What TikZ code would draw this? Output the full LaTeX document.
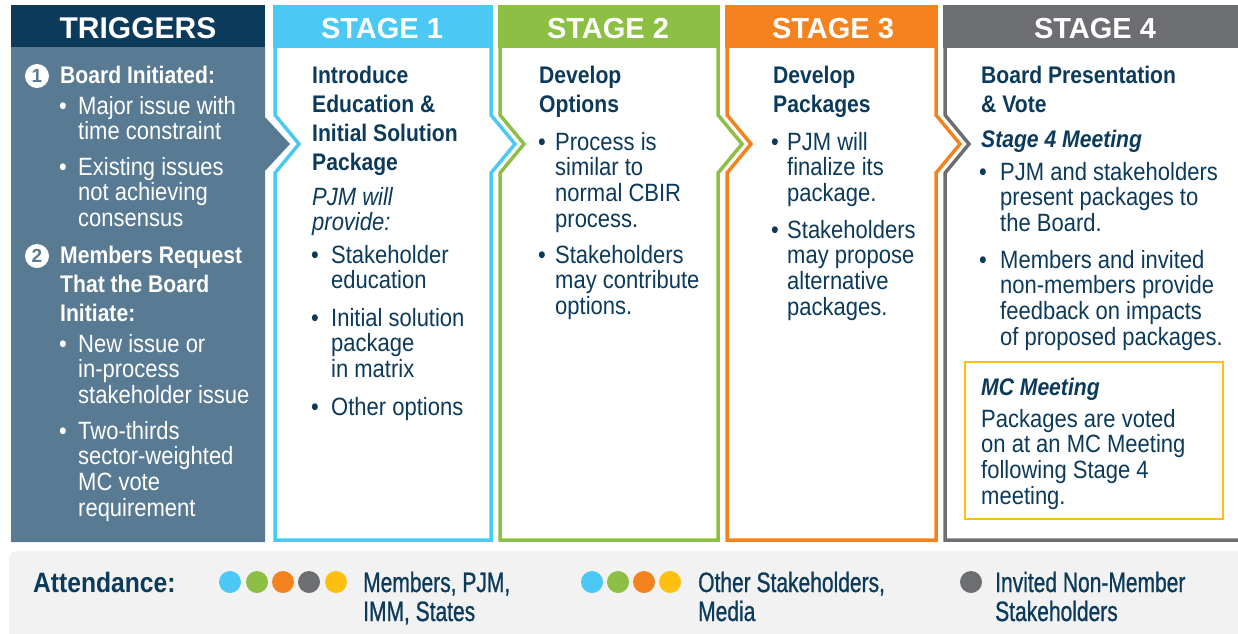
\documentclass[tikz,border=0pt]{standalone}
\usepackage{fontspec}
\setmainfont{Liberation Sans}
\newfontfamily\condfont[FakeStretch=0.88]{Liberation Sans}
\newfontfamily\narrowfont[FakeStretch=0.75,FakeBold=0.8]{Liberation Sans}
\definecolor{navy}{HTML}{0C3A5B}
\definecolor{slate}{HTML}{587A93}
\definecolor{sky}{HTML}{4CC8F4}
\definecolor{leaf}{HTML}{8CBF44}
\definecolor{tang}{HTML}{F4821F}
\definecolor{steel}{HTML}{6D6E71}
\definecolor{gold}{HTML}{FDC010}
\definecolor{barbg}{HTML}{F2F2F2}
\def\lns#1{\begin{tabular}[t]{@{}l@{}}#1\end{tabular}}

\begin{document}
\begin{tikzpicture}[x=1pt,y=-1pt,
    txt/.style={anchor=base west,inner sep=0pt,text=navy,font=\condfont\fontsize{25}{25.5}\selectfont},
    hd/.style={txt,font=\condfont\bfseries\fontsize{24}{29}\selectfont},
    hdit/.style={txt,font=\condfont\bfseries\itshape\fontsize{24}{29}\selectfont},
    wtxt/.style={txt,text=white},
    whd/.style={hd,text=white},
    ttl/.style={anchor=base,inner sep=0pt,text=white,font=\bfseries\fontsize{29}{29}\selectfont},
    numdot/.style={circle,fill=white,text=slate,inner sep=0pt,minimum size=24pt,font=\bfseries\fontsize{19}{19}\selectfont},
    att/.style={txt,font=\narrowfont\fontsize{28}{29}\selectfont},
    stageshape/.style 2 args={insert path={(#1,20) -- (#2,20) -- (#2,115) -- ++(24,29) -- (#2,173) -- (#2,540) -- (#1,540) -- (#1,173) -- ++(24,-29) -- (#1,115) -- cycle}},
    stageline/.style={line width=3.5pt,fill=white}]
    \useasboundingbox (0,0) rectangle (1238,633);
    % triggers column
    \fill[slate] (11,47) -- (265,47) -- (265,117) -- (290,144) -- (265,171) -- (265,542) -- (11,542) -- cycle;
    \fill[navy] (11,5) rectangle (265,47);
    \node[ttl,font=\bfseries\fontsize{30}{30}\selectfont] (trg) at (138,38) {TRIGGERS};
    % stage columns
    \draw[stageline,draw=sky,stageshape={275}{491}];
    \fill[sky] (273.25,5) rectangle (492.75,48);
    \draw[stageline,draw=leaf,stageshape={500}{718}];
    \fill[leaf] (498.25,5) rectangle (719.75,48);
    \draw[stageline,draw=tang,stageshape={727}{936}];
    \fill[tang] (725.25,5) rectangle (937.75,48);
    \draw[stageline,draw=steel,stageshape={945}{1250}];
    \fill[steel] (943.25,5) rectangle (1250,48);
    \node[ttl] (st1) at (382,38) {STAGE 1};
    \node[ttl] (st2) at (608,38) {STAGE 2};
    \node[ttl] (st3) at (833,38) {STAGE 3};
    \node[ttl] (st4) at (1095,38) {STAGE 4};

    % triggers text
    \node[numdot] (n1) at (37,76) {1};
    \node[whd] (bi) at (60,83) {Board Initiated:};
    \node[wtxt] (tb1) at (59,114) {•};
    \node[wtxt] (t1) at (78,114) {\lns{Major issue with\\time constraint}};
    \node[wtxt] (tb2) at (59,175) {•};
    \node[wtxt] (t2) at (78,175) {\lns{Existing issues\\not achieving\\consensus}};
    \node[numdot] (n2) at (37,256) {2};
    \node[whd] (mr) at (60,263) {\lns{Members Request\\That the Board\\Initiate:}};
    \node[wtxt] (tb3) at (59,352) {•};
    \node[wtxt] (t3) at (78,352) {\lns{New issue or\\in-process\\stakeholder issue}};
    \node[wtxt] (tb4) at (59,439) {•};
    \node[wtxt] (t4) at (78,439) {\lns{Two-thirds\\sector-weighted\\MC vote\\requirement}};

    % stage 1
    \node[hd] (h1) at (312,83) {\lns{Introduce\\Education \&\\Initial Solution\\Package}};
    \node[txt,font=\condfont\itshape\fontsize{25}{25.5}\selectfont] (pw) at (312,205) {\lns{PJM will\\provide:}};
    \node[txt] (ab1) at (311,263) {•};
    \node[txt] (a1) at (331,263) {\lns{Stakeholder\\education}};
    \node[txt] (ab2) at (311,326) {•};
    \node[txt] (a2) at (331,326) {\lns{Initial solution\\package\\in matrix}};
    \node[txt] (ab3) at (311,415) {•};
    \node[txt] (a3) at (331,415) {Other options};

    % stage 2
    \node[hd] (h2) at (539,83) {\lns{Develop\\Options}};
    \node[txt] (bb1) at (538,150) {•};
    \node[txt] (b1) at (555,150) {\lns{Process is\\similar to\\normal CBIR\\process.}};
    \node[txt] (bb2) at (538,263) {•};
    \node[txt] (b2) at (555,263) {\lns{Stakeholders\\may contribute\\options.}};

    % stage 3
    \node[hd] (h3) at (773,83) {\lns{Develop\\Packages}};
    \node[txt] (cb1) at (771,150) {•};
    \node[txt] (c1) at (787,150) {\lns{PJM will\\finalize its\\package.}};
    \node[txt] (cb2) at (771,238) {•};
    \node[txt] (c2) at (787,238) {\lns{Stakeholders\\may propose\\alternative\\packages.}};

    % stage 4
    \node[hd] (h4) at (981,83) {\lns{Board Presentation\\\& Vote}};
    \node[hdit] (sm) at (981,147) {Stage 4 Meeting};
    \node[txt] (db1) at (979,180) {•};
    \node[txt] (d1) at (1000,180) {\lns{PJM and stakeholders\\present packages to\\the Board.}};
    \node[txt] (db2) at (979,268) {•};
    \node[txt] (d2) at (1000,268) {\lns{Members and invited\\non-members provide\\feedback on impacts\\of proposed packages.}};
    \draw[gold,line width=2pt] (965,362) rectangle (1223,519);
    \node[hdit] (mc) at (981,395) {MC Meeting};
    \node[txt] (mct) at (981,427) {\lns{Packages are voted\\on at an MC Meeting\\following Stage 4\\meeting.}};

    % attendance bar
    \fill[barbg,rounded corners=8pt] (9,551) rectangle (1260,660);
    \node[hd,font=\condfont\bfseries\fontsize{28}{29}\selectfont] (att) at (33,592) {Attendance:};
    \fill[sky] (230,582) circle (11pt);
    \fill[leaf] (257,582) circle (11pt);
    \fill[tang] (283,582) circle (11pt);
    \fill[steel] (309,582) circle (11pt);
    \fill[gold] (336,582) circle (11pt);
    \node[att] (g1) at (363,592) {\lns{Members, PJM,\\IMM, States}};
    \fill[sky] (592,582) circle (11pt);
    \fill[leaf] (618,582) circle (11pt);
    \fill[tang] (644,582) circle (11pt);
    \fill[gold] (670,582) circle (11pt);
    \node[att] (g2) at (698,592) {\lns{Other Stakeholders,\\Media}};
    \fill[steel] (971,582) circle (11pt);
    \node[att] (g3) at (995,592) {\lns{Invited Non-Member\\Stakeholders}};
\end{tikzpicture}
\end{document}
